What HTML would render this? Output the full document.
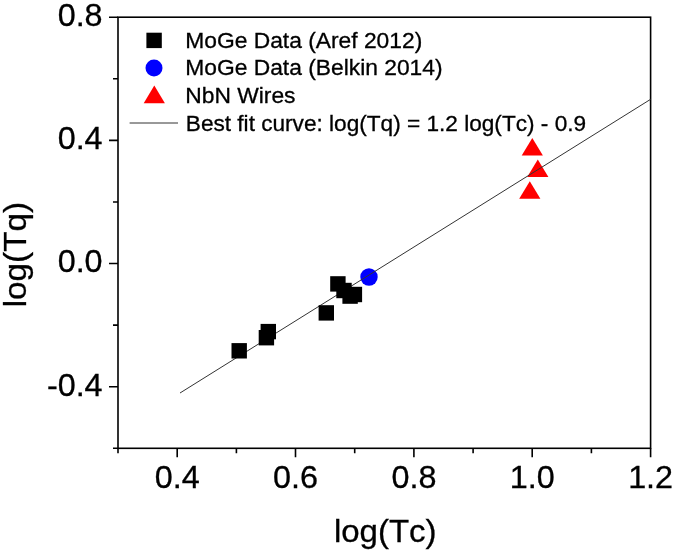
<!DOCTYPE html>
<html><head><meta charset="utf-8"><title>chart</title>
<style>html,body{margin:0;padding:0;background:#fff}svg{display:block}</style></head>
<body>
<svg width="675" height="553" viewBox="0 0 675 553">
<rect width="675" height="553" fill="#fff"/>
<rect x="118.0" y="17.2" width="532.6" height="431.1" fill="none" stroke="#000" stroke-width="1.6"/>
<path d="M118.0 448.3v5 M177.2 448.3v9 M236.4 448.3v5 M295.5 448.3v9 M354.7 448.3v5 M413.9 448.3v9 M473.1 448.3v5 M532.2 448.3v9 M591.4 448.3v5 M650.6 448.3v9 M118.0 17.2h-9 M118.0 78.8h-5 M118.0 140.4h-9 M118.0 202.0h-5 M118.0 263.5h-9 M118.0 325.1h-5 M118.0 386.7h-9 M118.0 448.3h-5" stroke="#000" stroke-width="1.6" fill="none"/>
<g font-family="Liberation Sans, Arial, sans-serif" fill="#000" stroke="#000" stroke-width="0.3" style="font-kerning:none">
<text transform="translate(102.6,26.0) scale(1.05,1)" text-anchor="end" font-size="30.8">0.8</text>
<text transform="translate(102.6,149.2) scale(1.05,1)" text-anchor="end" font-size="30.8">0.4</text>
<text transform="translate(102.6,272.3) scale(1.05,1)" text-anchor="end" font-size="30.8">0.0</text>
<text transform="translate(102.6,395.5) scale(1.05,1)" text-anchor="end" font-size="30.8">-0.4</text>
<text transform="translate(177.2,488.0) scale(1.05,1)" text-anchor="middle" font-size="30.8">0.4</text>
<text transform="translate(295.5,488.0) scale(1.05,1)" text-anchor="middle" font-size="30.8">0.6</text>
<text transform="translate(413.9,488.0) scale(1.05,1)" text-anchor="middle" font-size="30.8">0.8</text>
<text transform="translate(532.2,488.0) scale(1.05,1)" text-anchor="middle" font-size="30.8">1.0</text>
<text transform="translate(650.6,488.0) scale(1.05,1)" text-anchor="middle" font-size="30.8">1.2</text>
<text transform="translate(385.2,541.6) scale(1.0715,1)" text-anchor="middle" font-size="30.8">log(Tc)</text>
<text transform="translate(26.0,254.6) rotate(-90) scale(1.0805,1)" text-anchor="middle" font-size="30.8">log(Tq)</text>
</g>
<circle cx="369" cy="277" r="8.7" fill="#0000ff"/>
<path d="M532.3 137.9L542.9 155.5H521.6999999999999Z" fill="#ff0000"/>
<path d="M537.8 159.5L548.4 177.1H527.1999999999999Z" fill="#ff0000"/>
<path d="M529.8 181.2L540.4 198.79999999999998H519.1999999999999Z" fill="#ff0000"/>
<line x1="180" y1="393" x2="650.6" y2="99.3" stroke="#333" stroke-width="1"/>
<rect x="231.5" y="343.1" width="15.4" height="15.4" fill="#000"/>
<rect x="258.7" y="330.0" width="15.4" height="15.4" fill="#000"/>
<rect x="260.6" y="323.9" width="15.4" height="15.4" fill="#000"/>
<rect x="318.6" y="305.2" width="15.4" height="15.4" fill="#000"/>
<rect x="330.2" y="276.2" width="15.4" height="15.4" fill="#000"/>
<rect x="336.3" y="282.8" width="15.4" height="15.4" fill="#000"/>
<rect x="342.4" y="288.4" width="15.4" height="15.4" fill="#000"/>
<rect x="346.7" y="286.8" width="15.4" height="15.4" fill="#000"/>
<rect x="146.4" y="32.7" width="15.4" height="15.4" fill="#000"/>
<circle cx="154" cy="68" r="8.5" fill="#0000ff"/>
<path d="M154.3 85.6L164.9 103.19999999999999H143.70000000000002Z" fill="#ff0000"/>
<line x1="129.6" y1="123" x2="178" y2="123" stroke="#333" stroke-width="1"/>
<g font-family="Liberation Sans, Arial, sans-serif" fill="#000" stroke="#000" stroke-width="0.3" style="font-kerning:none">
<text transform="translate(185.3,47.9) scale(1.0465,1)" text-anchor="start" font-size="21.8">MoGe Data (Aref 2012)</text>
<text transform="translate(185.3,75.1) scale(1.0465,1)" text-anchor="start" font-size="21.8">MoGe Data (Belkin 2014)</text>
<text transform="translate(185.3,102.9) scale(1.0465,1)" text-anchor="start" font-size="21.8">NbN Wires</text>
<text transform="translate(185.8,131.2) scale(1.038,1)" text-anchor="start" font-size="21.8">Best fit curve: log(Tq) = 1.2 log(Tc) - 0.9</text>
</g>
</svg>
</body></html>
